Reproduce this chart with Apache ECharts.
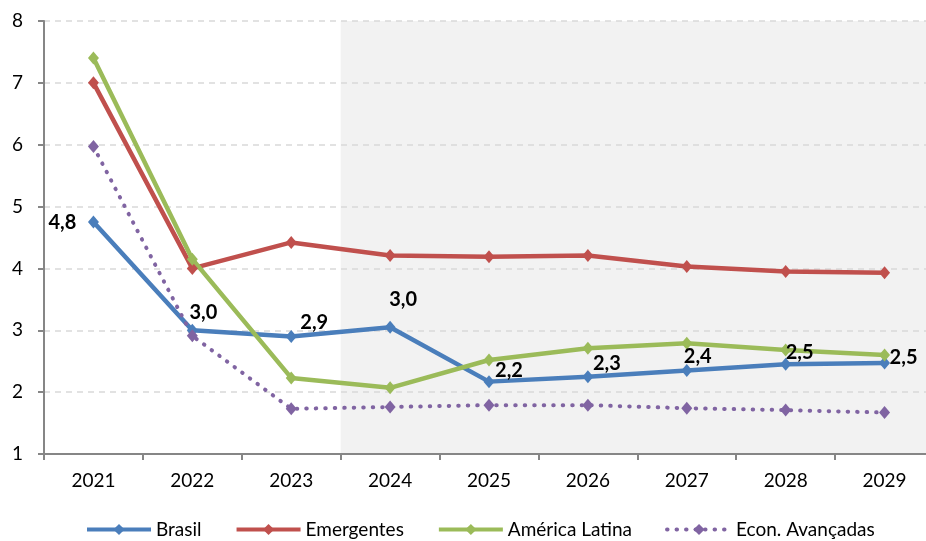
<!DOCTYPE html>
<html>
<head>
<meta charset="utf-8">
<script src="https://cdn.jsdelivr.net/npm/echarts@6/dist/echarts.min.js"></script>
<style>
	html, body { margin: 0; padding: 0; background: #fff; }
	#chart { width: 926px; height: 541px; }
</style>
</head>
<body>
<div id="chart"></div>
<script>
	var years = ['2021', '2022', '2023', '2024', '2025', '2026', '2027', '2028', '2029'];
	var brasil = [4.75, 3.0, 2.9, 3.05, 2.17, 2.25, 2.35, 2.45, 2.47];
	var emergentes = [7.0, 4.0, 4.42, 4.21, 4.19, 4.21, 4.03, 3.95, 3.93];
	var americaLatina = [7.4, 4.15, 2.23, 2.07, 2.52, 2.71, 2.79, 2.68, 2.6];
	var econAvancadas = [5.97, 2.91, 1.73, 1.76, 1.79, 1.79, 1.74, 1.71, 1.67];
	var yTicks = [1, 2, 3, 4, 5, 6, 7, 8];
	var forecastStart = 3; // 2024 onward shaded

	var font = 'Lato';
	// where each Brasil label sits relative to its point
	var labelPos = [[-31, 1], [11, -18], [23, -14], [13, -28], [20, -11], [19, -13], [11, -14], [14, -12], [19, -6]];

	function brasilData() {
		var out = [];
		for (var i = 0; i < brasil.length; i++) {
			out.push({
				value: brasil[i],
				label: {
					show: true,
					position: 'inside',
					offset: labelPos[i],
					formatter: function(p) {
						return p.value.toFixed(1).replace('.', ',');
					},
					fontFamily: font,
					fontWeight: 'bold',
					fontSize: 20,
					color: '#000'
				}
			});
		}
		return out;
	}

	function lineSeries(name, data, color, dotted) {
		return {
			name: name,
			type: 'line',
			data: data,
			z: 3,
			symbol: 'diamond',
			symbolSize: [11, 13],
			showAllSymbol: true,
			itemStyle: { color: color },
			lineStyle: dotted ? {
				color: color,
				width: 4,
				type: [0.5, 9],
				cap: 'round'
			} : {
				color: color,
				width: 4.5
			},
			emphasis: { disabled: true }
		};
	}

	var chart = echarts.init(document.getElementById('chart'), null, { renderer: 'canvas' });
	var option = {
		animation: false,
		backgroundColor: '#fff',
		textStyle: { fontFamily: font },
		grid: { left: 44, right: -8, top: 21, bottom: 87, outerBoundsMode: 'none', containLabel: false },
		legend: {
			left: 80,
			top: 515,
			itemWidth: 64,
			itemHeight: 14,
			itemGap: 33,
			lineStyle: { width: 4 },
			textStyle: { fontFamily: font, fontSize: 19, color: '#000' },
			data: ['Brasil', 'Emergentes', 'América Latina', 'Econ. Avançadas']
		},
		xAxis: [{
			type: 'category',
			data: years,
			z: 2,
			axisLine: { lineStyle: { color: '#868686', width: 2 } },
			axisTick: { show: true, length: 6, lineStyle: { color: '#868686', width: 2 } },
			axisLabel: { color: '#000', fontSize: 19, margin: 17, fontFamily: font }
		}, {
			type: 'value',
			min: 0,
			max: years.length,
			show: false
		}],
		yAxis: {
			type: 'value',
			min: yTicks[0],
			max: yTicks[yTicks.length - 1],
			interval: 1,
			z: 2,
			axisLine: { show: true, lineStyle: { color: '#868686', width: 2 } },
			axisTick: { show: true, length: 6, lineStyle: { color: '#868686', width: 2 } },
			axisLabel: { color: '#000', fontSize: 19, margin: 21, fontFamily: font },
			splitLine: { lineStyle: { color: '#d9d9d9', type: [6, 5], width: 1.5 } }
		},
		series: [
			{
				type: 'line',
				xAxisIndex: 1,
				data: [],
				silent: true,
				markArea: {
					silent: true,
					itemStyle: { color: '#f2f2f2', opacity: 1 },
					data: [[{ xAxis: forecastStart, yAxis: yTicks[0] }, { xAxis: years.length, yAxis: yTicks[yTicks.length - 1] }]]
				}
			},
			lineSeries('Brasil', brasilData(), '#4a7ebb', false),
			lineSeries('Emergentes', emergentes, '#c0504d', false),
			lineSeries('América Latina', americaLatina, '#9bbb59', false),
			lineSeries('Econ. Avançadas', econAvancadas, '#8064a2', true)
		]
	};
	chart.setOption(option);
</script>
</body>
</html>
